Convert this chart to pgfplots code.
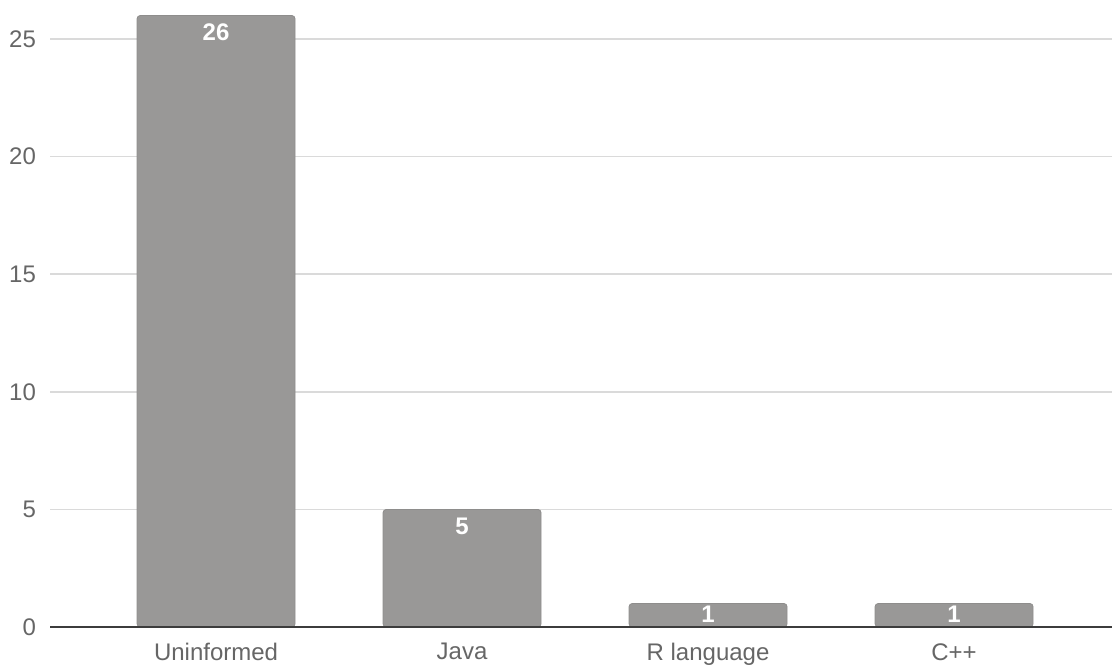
\documentclass[border=0pt]{standalone}
\usepackage{fontspec}
\setmainfont{Liberation Sans}
\usepackage{pgfplots}
\usepackage{pgfplotstable}
\pgfplotsset{compat=1.18}

\definecolor{barfill}{HTML}{999897}
\definecolor{baredge}{HTML}{8E8D8C}
\definecolor{gridgray}{HTML}{DADADA}
\definecolor{ticktext}{HTML}{666666}
\definecolor{baseline}{HTML}{3C3C3C}

% count per language; lshift places the value label inside the bar
\pgfplotstableread{
x  count lshift
0  26    -8.5
1  5     -8.5
2  1     -5.5
3  1     -5.5
}\langdata

\begin{document}
\begin{tikzpicture}
\begin{axis}[
  at={(0pt,0pt)}, anchor=south west,
  scale only axis,
  width=531pt, height=313.5pt,
  xmin=-0.675, xmax=3.642,
  ymin=0, ymax=26.66,
  axis line style={draw=none},
  tick style={draw=none},
  ytick={0,5,10,15,20,25},
  xtick={0,1,2,3},
  xticklabels={Uninformed,Java,R language,C++},
  ymajorgrids,
  grid style={color=gridgray, line width=0.8pt},
  /pgf/number format/assume math mode=true,
  tick label style={font=\fontsize{12}{14}\selectfont, text=ticktext},
  yticklabel style={xshift=-3.5pt},
  xticklabel style={yshift=-4.6pt},
  clip=false,
]
\addplot[
  ybar, bar width=79pt, bar shift=0pt,
  fill=barfill, draw=baredge, line width=0.4pt,
  rounded corners=1.6pt,
  visualization depends on={\thisrow{lshift} \as \labshift},
  nodes near coords,
  nodes near coords style={
    font=\fontsize{12}{14}\selectfont\bfseries, text=white,
    anchor=center, yshift=\labshift pt, inner sep=0pt},
] table[x=x, y=count] {\langdata};
\draw[color=baseline, line width=1pt] (rel axis cs:0,0) -- (rel axis cs:1,0);
\end{axis}
\pgfresetboundingbox
\useasboundingbox (-25pt,-18.5pt) rectangle (531pt,313.5pt);
\end{tikzpicture}
\end{document}
